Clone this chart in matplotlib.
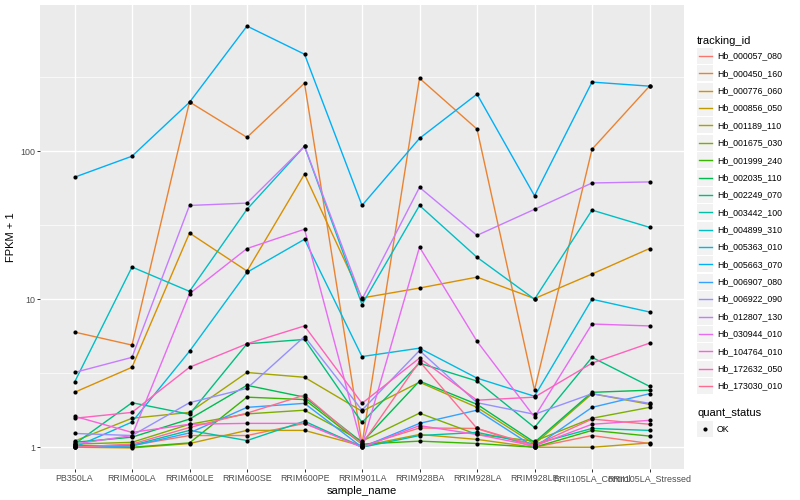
import matplotlib
matplotlib.use("Agg")
import matplotlib.pyplot as plt
from matplotlib.lines import Line2D
from matplotlib.patches import Rectangle
from matplotlib.ticker import FixedLocator, NullFormatter
import numpy as np

plt.rcParams['font.family'] = ['Liberation Sans', 'DejaVu Sans']

samples = ["PB350LA", "RRIM600LA", "RRIM600LE", "RRIM600SE", "RRIM600PE", "RRIM901LA",
           "RRIM928BA", "RRIM928LA", "RRIM928LE", "RRII105LA_Control", "RRII105LA_Stressed"]

tracking_ids = ["Hb_000057_080", "Hb_000450_160", "Hb_000776_060", "Hb_000856_050",
                "Hb_001189_110", "Hb_001675_030", "Hb_001999_240", "Hb_002035_110",
                "Hb_002249_070", "Hb_003442_100", "Hb_004899_310", "Hb_005363_010",
                "Hb_005663_070", "Hb_006907_080", "Hb_006922_090", "Hb_012807_130",
                "Hb_030944_010", "Hb_104764_010", "Hb_172632_050", "Hb_173030_010"]

# ggplot default hue palette for 20 levels
colors = ["#F8766D", "#EA8331", "#D89000", "#C09B00", "#A3A500", "#7CAE00", "#39B600",
          "#00BB4E", "#00BF7D", "#00C1A3", "#00BFC4", "#00BAE0", "#00B0F6", "#35A2FF",
          "#9590FF", "#C77CFF", "#E76BF3", "#FA62DB", "#FF62BC", "#FF6C91"]

# FPKM + 1, one list per gene, in sample order
hb_000057_080 = [1.02, 1.03, 1.20, 1.20, 1.45, 1.02, 1.35, 1.34, 1.00, 1.20, 1.06]
hb_000450_160 = [6.0, 4.9, 215, 124, 288, 1.05, 311, 141, 2.43, 103, 275]
hb_000776_060 = [2.35, 3.47, 28, 15.5, 70, 10.2, 11.9, 14.1, 10.1, 14.8, 22]
hb_000856_050 = [1.00, 0.99, 1.06, 1.30, 1.30, 1.02, 1.22, 1.13, 1.00, 1.00, 1.07]
hb_001189_110 = [1.10, 1.57, 1.72, 3.20, 2.97, 1.75, 2.75, 1.86, 1.05, 2.30, 1.95]
hb_001675_030 = [1.05, 1.08, 1.43, 1.68, 1.78, 1.10, 1.70, 1.22, 1.10, 1.57, 1.86]
hb_001999_240 = [1.03, 1.00, 1.07, 2.18, 2.10, 1.05, 1.10, 1.06, 1.00, 1.30, 1.19]
hb_002035_110 = [1.08, 1.17, 1.55, 2.62, 2.18, 1.08, 2.80, 1.95, 1.08, 2.35, 2.43]
hb_002249_070 = [1.05, 2.00, 1.67, 5.00, 5.35, 1.47, 3.70, 2.80, 1.36, 4.05, 2.58]
hb_003442_100 = [1.02, 1.03, 1.30, 1.11, 1.50, 1.00, 1.20, 1.26, 1.05, 1.34, 1.30]
hb_004899_310 = [2.75, 16.5, 11.3, 40.5, 108, 9.2, 43, 19.2, 10.0, 40, 30.6]
hb_005363_010 = [1.00, 1.48, 4.45, 15.2, 25.4, 4.1, 4.67, 2.93, 2.21, 10.0, 8.2]
hb_005663_070 = [66.7, 92.5, 214, 700, 452, 43, 122, 243, 50, 293, 275]
hb_006907_080 = [1.00, 1.02, 1.25, 1.86, 1.98, 1.00, 1.45, 1.78, 1.00, 1.86, 2.30]
hb_006922_090 = [1.24, 1.20, 2.00, 2.50, 5.60, 1.78, 4.50, 2.00, 1.67, 2.30, 1.98]
hb_012807_130 = [3.2, 4.05, 43, 44.6, 108, 10.0, 57, 27, 40.5, 61, 62]
hb_030944_010 = [1.05, 1.20, 10.9, 22, 29.7, 1.02, 22.5, 5.2, 1.60, 6.8, 6.6]
hb_104764_010 = [1.62, 1.26, 1.43, 1.45, 1.45, 1.00, 1.40, 1.22, 1.02, 1.43, 1.52]
hb_172632_050 = [1.57, 1.72, 3.47, 5.00, 6.60, 1.98, 4.00, 2.08, 2.18, 3.70, 5.05]
hb_173030_010 = [1.00, 1.05, 1.36, 1.70, 2.25, 1.05, 3.80, 1.34, 1.03, 1.55, 1.43]

series = [hb_000057_080, hb_000450_160, hb_000776_060, hb_000856_050, hb_001189_110,
          hb_001675_030, hb_001999_240, hb_002035_110, hb_002249_070, hb_003442_100,
          hb_004899_310, hb_005363_010, hb_005663_070, hb_006907_080, hb_006922_090,
          hb_012807_130, hb_030944_010, hb_104764_010, hb_172632_050, hb_173030_010]

W, H = 800, 500
fig = plt.figure(figsize=(8, 5), dpi=100)
ax = fig.add_axes([40 / W, 1 - 469 / H, 644 / W, 464 / H])
ax.set_facecolor('#EBEBEB')
for s in ax.spines.values():
    s.set_visible(False)

x = np.arange(len(samples))
for vals, c in zip(series, colors):
    ax.plot(x, vals, color=c, lw=1.0, zorder=2, solid_capstyle='butt')
for vals in series:
    ax.plot(x, vals, 'o', color='black', ms=3.0, mew=0, zorder=3)

ax.set_yscale('log')
allv = np.log10(np.concatenate([np.array(v) for v in series]))
pad = 0.05 * (allv.max() - allv.min())
ax.set_ylim(10 ** (allv.min() - pad), 10 ** (allv.max() + pad))
ax.set_xlim(-0.6, len(samples) - 0.4)

ax.yaxis.set_major_locator(FixedLocator([1, 10, 100]))
ax.set_yticklabels(['1', '10', '100'])
ax.yaxis.set_minor_locator(FixedLocator([10 ** 0.5, 10 ** 1.5, 10 ** 2.5]))
ax.yaxis.set_minor_formatter(NullFormatter())
ax.set_xticks(x)
ax.set_xticklabels(samples)

ax.grid(which='major', color='white', lw=1.0)
ax.grid(which='minor', axis='y', color='white', lw=0.5)
ax.set_axisbelow(True)
ax.tick_params(which='major', length=2.2, width=0.7, color='#333333',
               labelsize=6.4, labelcolor='#4D4D4D', pad=1.5)
ax.tick_params(which='minor', length=0)

ax.set_xlabel('sample_name', fontsize=8, labelpad=2)
ax.set_ylabel('FPKM + 1', fontsize=8, labelpad=3)

# legend drawn by hand, ggplot style
def fx(px):
    return px / W

def fy(py):
    return 1 - py / H

fig.text(fx(697), fy(41), 'tracking_id', fontsize=8, va='center', ha='left')
y0, dy = 56, 17.37
for i, (name, c) in enumerate(zip(tracking_ids, colors)):
    yc = y0 + i * dy
    fig.patches.append(Rectangle((fx(697), fy(yc + 8)), 16 / W, 16 / H,
                                 transform=fig.transFigure, facecolor='#F2F2F2',
                                 edgecolor='none'))
    fig.lines.append(Line2D([fx(699), fx(712)], [fy(yc), fy(yc)],
                            transform=fig.transFigure, color=c, lw=1.0))
    fig.text(fx(717), fy(yc), name, fontsize=6.3, va='center', ha='left')

fig.text(fx(697), fy(413), 'quant_status', fontsize=8, va='center', ha='left')
fig.patches.append(Rectangle((fx(697), fy(437)), 16 / W, 16 / H,
                             transform=fig.transFigure, facecolor='#F2F2F2',
                             edgecolor='none'))
fig.lines.append(Line2D([fx(705)], [fy(429)], transform=fig.transFigure,
                        marker='o', color='black', ms=3.0, mew=0))
fig.text(fx(717), fy(429), 'OK', fontsize=6.3, va='center', ha='left')

fig.savefig('out.png', dpi=100, facecolor='white')
